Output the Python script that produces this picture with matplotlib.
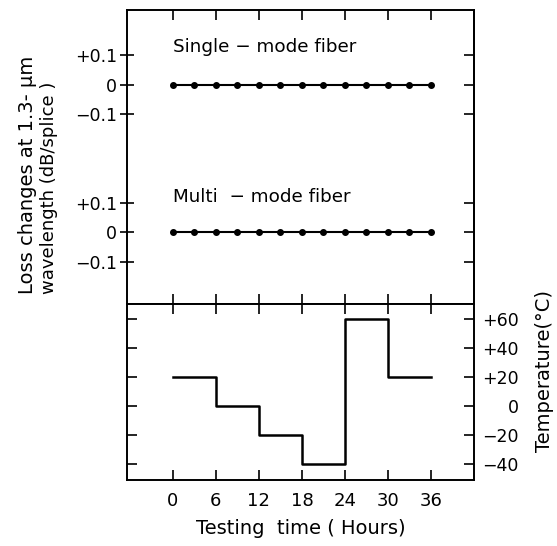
import numpy as np
import matplotlib.pyplot as plt

# data
hours = [0, 3, 6, 9, 12, 15, 18, 21, 24, 27, 30, 33, 36]
single_loss = [0, 0, 0, 0, 0, 0, 0, 0, 0, 0, 0, 0, 0]
multi_loss = [0, 0, 0, 0, 0, 0, 0, 0, 0, 0, 0, 0, 0]
temp_hours = [0, 6, 12, 18, 24, 30, 36]
temp_values = [20, 0, -20, -40, 60, 20, 20]
hour_ticks = [0, 6, 12, 18, 24, 30, 36]
temp_ticks = [60, 40, 20, 0, -20, -40]
temp_labels = ["+60", "+40", "+20", "0", "\u221220", "\u221240"]
loss_ticks = [0.1, 0, -0.1]
loss_labels = ["+0.1", "0", "\u22120.1"]

single_off = 0.5
multi_off = 0.0

plt.rcParams['font.family'] = ['DejaVu Sans']
plt.rcParams['font.size'] = 12

fig = plt.figure(figsize=(5.57, 5.46), dpi=100)

W, H = 557, 546
def box(l, t, r, b):
    return [l / W, 1 - b / H, (r - l) / W, (b - t) / H]

ax1 = fig.add_axes(box(127, 10, 474, 304))
ax2 = fig.add_axes(box(127, 304, 474, 480))

# ----------------------------
# Loss panel
# ----------------------------
ax1.plot(hours, np.array(single_loss) + single_off, color="black", lw=1.5,
         marker="o", ms=4)
ax1.plot(hours, np.array(multi_loss) + multi_off, color="black", lw=1.5,
         marker="o", ms=4)
ax1.set_xlim(-6.4, 42)
ax1.set_ylim(-0.244, 0.754)

yt = [v + single_off for v in loss_ticks] + [v + multi_off for v in loss_ticks]
ax1.set_yticks(yt)
ax1.set_yticklabels(loss_labels + loss_labels)
ax1.tick_params(axis="y", left=True, right=False, direction="inout",
                length=10, width=1.2, pad=2, labelsize=12.5)
# inward ticks on the right spine
ax1r = ax1.secondary_yaxis("right")
ax1r.set_yticks(yt)
ax1r.set_yticklabels([])
ax1r.tick_params(axis="y", direction="in", length=7, width=1.2)
ax1r.spines["right"].set_linewidth(1.4)
ax1.set_xticks(hour_ticks)
ax1.tick_params(axis="x", top=True, bottom=True, labelbottom=False,
                direction="in", length=7, width=1.2)

ax1.text(0, single_off + 0.13, "Single \u2212 mode fiber", fontsize=13.2,
         va="center", ha="left")
ax1.text(0, multi_off + 0.12, "Multi  \u2212 mode fiber", fontsize=13.2,
         va="center", ha="left")

# ----------------------------
# Temperature panel
# ----------------------------
ax2.step(temp_hours, temp_values, where="post", color="black", lw=1.8)
ax2.set_xlim(-6.4, 42)
ax2.set_ylim(-51, 70.3)
ax2.set_yticks(temp_ticks)
ax2.yaxis.tick_right()
ax2.set_yticklabels(temp_labels)
ax2.tick_params(axis="y", left=True, right=True, direction="in",
                length=7, width=1.2, pad=32, labelsize=12.5)
for lbl in ax2.get_yticklabels():
    lbl.set_horizontalalignment("right")
ax2.set_xticks(hour_ticks)
ax2.set_xticklabels([str(h) for h in hour_ticks])
ax2.tick_params(axis="x", top=True, bottom=True, direction="in",
                length=7, width=1.2, pad=9, labelsize=13)
ax2.set_xlabel("Testing  time ( Hours)", fontsize=14, labelpad=6)

for ax in (ax1, ax2):
    for s in ax.spines.values():
        s.set_linewidth(1.4)

# axis titles
fig.text(28 / W, 1 - 294 / H, "Loss changes at 1.3- \u03bcm", rotation=90,
         ha="center", va="bottom", fontsize=14)
fig.text(49 / W, 1 - 294 / H, "wavelength (dB/splice )", rotation=90,
         ha="center", va="bottom", fontsize=13)
fig.text(545 / W, 1 - 371 / H, "Temperature(\u00b0C)", rotation=90,
         ha="center", va="center", fontsize=14)

fig.savefig("out.png", dpi=100)
